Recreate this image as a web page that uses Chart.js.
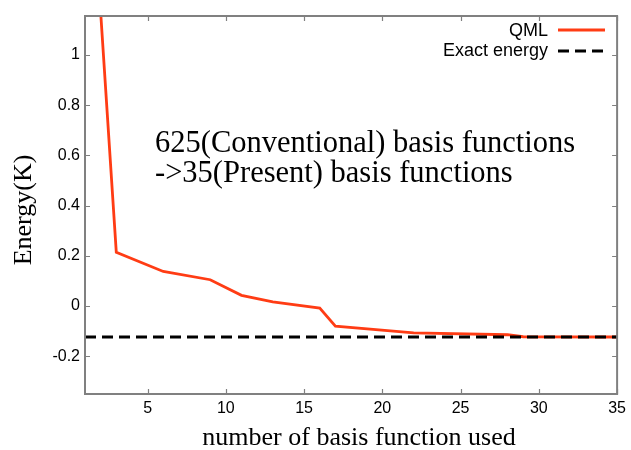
<!DOCTYPE html>
<html>
<head>
<meta charset="utf-8">
<script src="https://cdn.jsdelivr.net/npm/chart.js@4"></script>
<style>
html,body{margin:0;padding:0;background:#fff;}
#wrap{width:631px;height:450px;position:relative;}
</style>
</head>
<body>
<div id="wrap"><canvas id="c" width="631" height="450"></canvas></div>
<script>
// ---- data ----
const qmlX = [2, 3, 6, 9, 11, 13, 16, 17, 22, 28, 29, 35];
const qmlY = [1.17, 0.214, 0.138, 0.105, 0.043, 0.017, -0.008, -0.080, -0.107, -0.114, -0.122, -0.123];
const exactX = [1, 35];
const exactY = [-0.123, -0.123];
const xTicks = [5, 10, 15, 20, 25, 30, 35];
const yTicks = [-0.2, 0, 0.2, 0.4, 0.6, 0.8, 1];
const seriesNames = ['QML', 'Exact energy'];
const xTitle = 'number of basis function used';
const yTitle = 'Energy(K)';
const noteLines = ['625(Conventional) basis functions', '->35(Present) basis functions'];

const RED = '#ff3c14';
const FRAME = '#808080';
const SANS = "'Liberation Sans', Arial, Helvetica, sans-serif";
const SERIF = "'Liberation Serif', 'Times New Roman', serif";

const framePlugin = {
  id: 'frame',
  afterDatasetsDraw(chart) {
    const {ctx, chartArea: a, scales: {x, y}} = chart;
    ctx.save();
    ctx.strokeStyle = FRAME;
    ctx.lineWidth = 2;
    ctx.strokeRect(a.left, a.top, a.right - a.left, a.bottom - a.top);
    ctx.lineWidth = 1.2;
    const tl = 5;
    ctx.beginPath();
    xTicks.forEach(v => {
      const px = Math.round(x.getPixelForValue(v)) + 0.5;
      ctx.moveTo(px, a.bottom); ctx.lineTo(px, a.bottom - tl);
      ctx.moveTo(px, a.top); ctx.lineTo(px, a.top + tl);
    });
    yTicks.forEach(v => {
      const py = Math.round(y.getPixelForValue(v)) + 0.5;
      ctx.moveTo(a.left, py); ctx.lineTo(a.left + tl, py);
      ctx.moveTo(a.right, py); ctx.lineTo(a.right - tl, py);
    });
    ctx.stroke();
    ctx.restore();
  },
  afterDraw(chart) {
    const {ctx} = chart;
    ctx.save();
    ctx.fillStyle = '#000';
    // axis titles
    ctx.font = '26px ' + SERIF;
    ctx.textAlign = 'center';
    ctx.textBaseline = 'alphabetic';
    ctx.fillText(xTitle, 359, 445);
    ctx.save();
    ctx.translate(31, 210);
    ctx.rotate(-Math.PI / 2);
    ctx.fillText(yTitle, 0, 0);
    ctx.restore();
    // annotation text
    ctx.font = '30.5px ' + SERIF;
    ctx.textAlign = 'left';
    ctx.fillText(noteLines[0], 155, 152);
    ctx.fillText(noteLines[1], 155, 182);
    // legend
    ctx.font = '18px ' + SANS;
    ctx.textAlign = 'right';
    ctx.textBaseline = 'middle';
    ctx.fillText(seriesNames[0], 548, 31);
    ctx.fillText(seriesNames[1], 548, 51);
    ctx.lineWidth = 2.8;
    ctx.strokeStyle = RED;
    ctx.beginPath(); ctx.moveTo(558, 30); ctx.lineTo(605, 30); ctx.stroke();
    ctx.strokeStyle = '#000';
    ctx.setLineDash([11, 6]);
    ctx.beginPath(); ctx.moveTo(558, 51); ctx.lineTo(605, 51); ctx.stroke();
    ctx.restore();
  }
};

new Chart(document.getElementById('c'), {
  type: 'line',
  data: {
    datasets: [
      {
        label: seriesNames[1],
        data: exactX.map((v, i) => ({x: v, y: exactY[i]})),
        borderColor: '#000',
        borderWidth: 2.8,
        borderDash: [11, 6],
        pointRadius: 0,
        fill: false,
        order: 0
      },
      {
        label: seriesNames[0],
        data: qmlX.map((v, i) => ({x: v, y: qmlY[i]})),
        borderColor: RED,
        borderWidth: 2.8,
        pointRadius: 0,
        tension: 0,
        fill: false,
        order: 1
      }
    ]
  },
  options: {
    responsive: false,
    animation: false,
    events: [],
    layout: {padding: {top: 16, right: 11, left: 0, bottom: 0}},
    plugins: {legend: {display: false}, tooltip: {enabled: false}},
    scales: {
      x: {
        type: 'linear',
        min: 1, max: 35,
        afterBuildTicks: s => { s.ticks = xTicks.map(v => ({value: v})); },
        afterFit: s => { s.height = 56; },
        grid: {display: false, drawTicks: false},
        border: {display: false},
        ticks: {color: '#000', font: {family: SANS, size: 16}, padding: 5, maxRotation: 0, autoSkip: false},
        title: {display: false}
      },
      y: {
        type: 'linear',
        min: -0.35, max: 1.155,
        afterBuildTicks: s => { s.ticks = yTicks.map(v => ({value: v})); },
        afterFit: s => { s.width = 85; },
        grid: {display: false, drawTicks: false},
        border: {display: false},
        ticks: {color: '#000', font: {family: SANS, size: 16}, padding: 5,
          callback: v => String(Math.round(v * 10) / 10)},
        title: {display: false}
      }
    }
  },
  plugins: [framePlugin]
});
</script>
</body>
</html>
